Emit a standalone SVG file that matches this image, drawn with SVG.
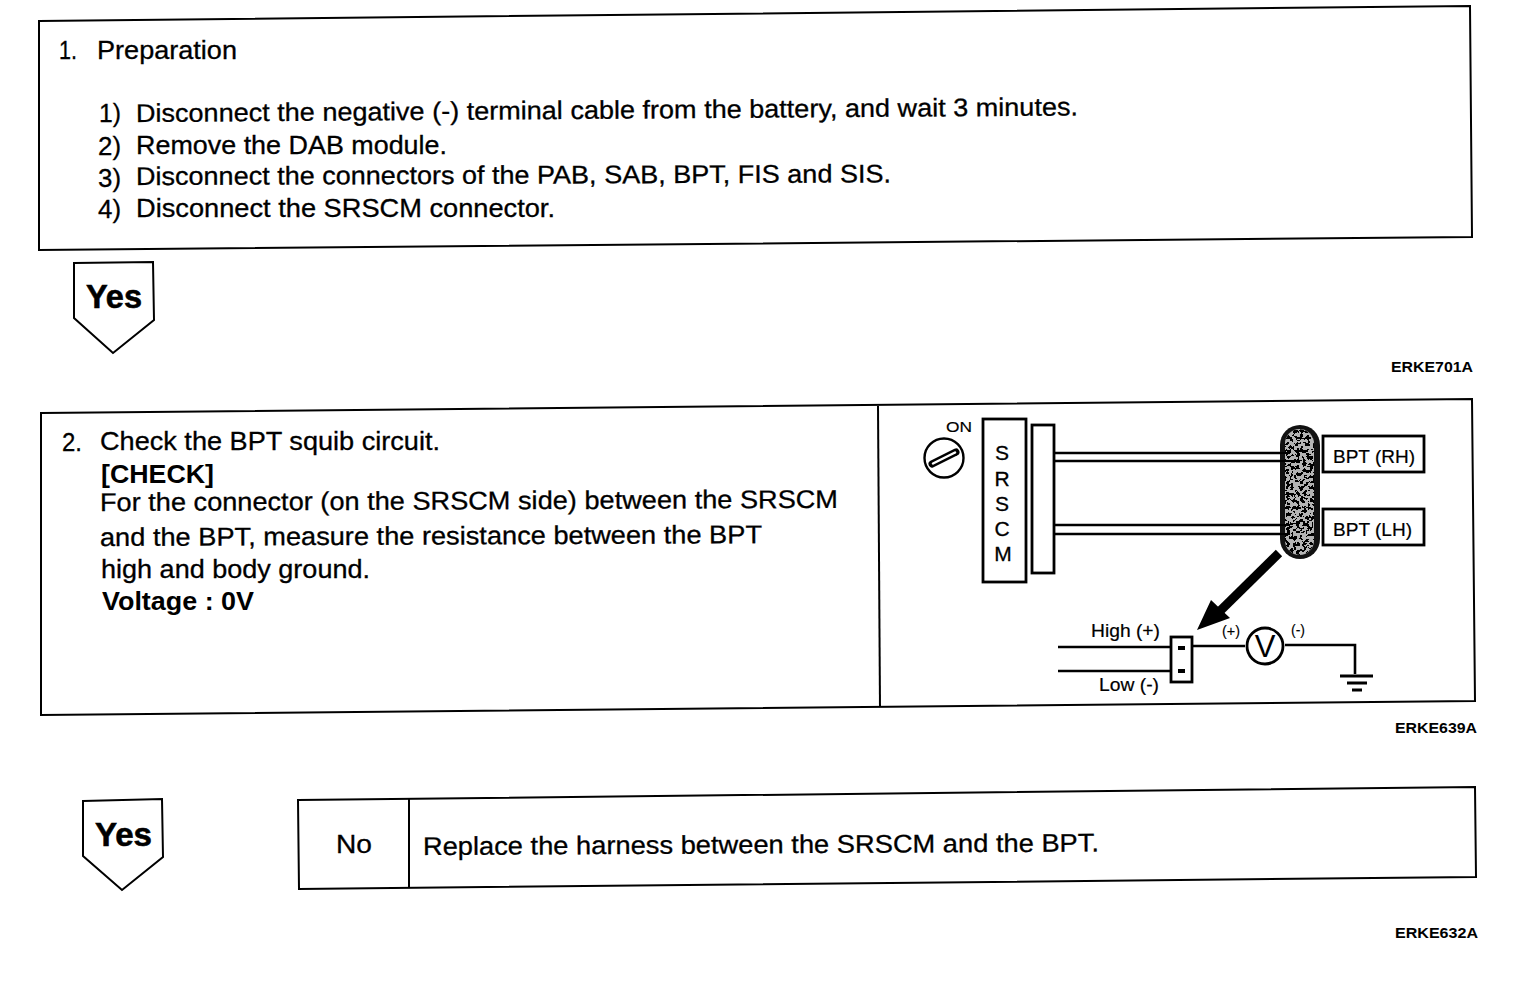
<svg xmlns="http://www.w3.org/2000/svg" width="1520" height="984" viewBox="0 0 1520 984">
<style>
.b{fill:none;stroke:#000;stroke-width:2}
.v{fill:none;stroke:#000;stroke-width:2.600}
.f{fill:#fff;stroke:#000;stroke-width:2.800}
text{font-family:"Liberation Sans",Arial,sans-serif;fill:#000}
.t{font-size:25.500px;stroke:#000;stroke-width:.3}
.h{font-size:25.500px;font-weight:bold}
.y{font-size:33px;font-weight:bold;stroke:#000;stroke-width:.6}
.c{font-size:14px;font-weight:bold}
.l{font-size:18.500px;stroke:#000;stroke-width:.2}
.s{font-size:14px;stroke:#000;stroke-width:.15}
.m{font-size:21px;text-anchor:middle;stroke:#000;stroke-width:.3}
</style>
<defs>
<filter id="grain" x="0" y="0" width="100%" height="100%">
<feTurbulence type="fractalNoise" baseFrequency="0.3" numOctaves="2" seed="11" result="n"/>
<feColorMatrix in="n" type="matrix" values="0 0 0 0 0 0 0 0 0 0 0 0 0 0 0 1.300 1.300 0 0 -0.950"/>
<feComponentTransfer result="a"><feFuncA type="discrete" tableValues="0 0 1 1 1"/></feComponentTransfer>
<feComposite in="a" in2="SourceGraphic" operator="in" result="d"/>
<feFlood flood-color="#b4b4b4"/>
<feComposite in2="SourceGraphic" operator="in" result="bg"/>
<feMerge><feMergeNode in="bg"/><feMergeNode in="d"/></feMerge>
</filter>
</defs>

<g id="step1">
<path class="b" d="M39 21L1470 6L1472 237L39 250Z"/>
<text class="t" x="59" y="59" textLength="18" lengthAdjust="spacingAndGlyphs">1.</text>
<text class="t" x="97" y="59" textLength="140" lengthAdjust="spacingAndGlyphs">Preparation</text>
<text class="t" x="99" y="122" textLength="22" lengthAdjust="spacingAndGlyphs">1)</text>
<text class="t" x="136" y="122" textLength="942" lengthAdjust="spacingAndGlyphs" transform="rotate(-0.4 136 122)">Disconnect the negative (-) terminal cable from the battery, and wait 3 minutes.</text>
<text class="t" x="98" y="155" textLength="23" lengthAdjust="spacingAndGlyphs">2)</text>
<text class="t" x="136" y="154" textLength="311" lengthAdjust="spacingAndGlyphs">Remove the DAB module.</text>
<text class="t" x="98" y="187" textLength="23" lengthAdjust="spacingAndGlyphs">3)</text>
<text class="t" x="136" y="185" textLength="755" lengthAdjust="spacingAndGlyphs" transform="rotate(-0.2 136 185)">Disconnect the connectors of the PAB, SAB, BPT, FIS and SIS.</text>
<text class="t" x="98" y="218" textLength="23" lengthAdjust="spacingAndGlyphs">4)</text>
<text class="t" x="136" y="217" textLength="419" lengthAdjust="spacingAndGlyphs">Disconnect the SRSCM connector.</text>
</g>
<g id="yes1">
<path class="b" d="M74 263L153 262L154 320L113 353L74 318Z"/>
<text class="y" x="86" y="308" textLength="56" lengthAdjust="spacingAndGlyphs">Yes</text>
</g>
<text class="c" x="1391" y="372" textLength="82" lengthAdjust="spacingAndGlyphs">ERKE701A</text>

<g id="step2">
<path class="b" d="M41 413L1472 399L1475 701L41 715Z"/>
<path class="b" d="M878 406L880 707"/>
<text class="t" x="62" y="451" textLength="20" lengthAdjust="spacingAndGlyphs">2.</text>
<text class="t" x="100" y="450" textLength="340" lengthAdjust="spacingAndGlyphs">Check the BPT squib circuit.</text>
<text class="h" x="101" y="483" textLength="113" lengthAdjust="spacingAndGlyphs">[CHECK]</text>
<text class="t" x="100" y="511" textLength="738" lengthAdjust="spacingAndGlyphs" transform="rotate(-0.25 100 511)">For the connector (on the SRSCM side) between the SRSCM</text>
<text class="t" x="100" y="546" textLength="662" lengthAdjust="spacingAndGlyphs" transform="rotate(-0.25 100 546)">and the BPT, measure the resistance between the BPT</text>
<text class="t" x="101" y="578" textLength="269" lengthAdjust="spacingAndGlyphs">high and body ground.</text>
<text class="h" x="102" y="610" textLength="152" lengthAdjust="spacingAndGlyphs">Voltage : 0V</text>
</g>

<g id="connectors">
<path class="v" d="M1054 453H1282M1054 461H1282M1054 525H1282M1054 534H1282"/>
<path class="v" d="M1058 647H1171M1058 671H1171M1192 646H1245M1285 645H1355V674"/>
<path d="M1279 553L1218 613" fill="none" stroke="#000" stroke-width="9"/>
<path d="M1197 630L1211 600L1230 618Z" fill="#000"/>
</g>

<g id="switch">
<text class="s" x="946" y="432" textLength="26" lengthAdjust="spacingAndGlyphs">ON</text>
<circle cx="944" cy="458" r="19.500" fill="#fff" stroke="#000" stroke-width="2.400"/>
<path d="M932 464L956 452" stroke="#000" stroke-width="7" stroke-linecap="round"/>
<path d="M933 463.500L955 452.500" stroke="#fff" stroke-width="2.500" stroke-linecap="round"/>
</g>
<g id="srscm">
<rect class="f" x="983" y="419" width="43" height="163"/>
<text class="m" x="1002" y="460">S</text>
<text class="m" x="1002" y="486">R</text>
<text class="m" x="1002" y="511">S</text>
<text class="m" x="1002" y="536">C</text>
<text class="m" x="1003" y="561">M</text>
</g>
<g id="connector-block"><rect class="f" x="1032" y="425" width="22" height="148"/></g>
<g id="harness">
<rect x="1280" y="425" width="40" height="134" rx="20" fill="#111"/>
<rect x="1285" y="429" width="29" height="126" rx="14.500" fill="#777" filter="url(#grain)"/>
<path d="M1280 453h10M1280 461h10M1280 525h10M1280 534h10" stroke="#000" stroke-width="2"/>
</g>
<g id="bpt-rh">
<rect class="f" x="1323" y="436" width="101" height="36"/>
<text class="l" x="1333" y="463" textLength="82" lengthAdjust="spacingAndGlyphs">BPT (RH)</text>
</g>
<g id="bpt-lh">
<rect class="f" x="1323" y="509" width="101" height="36"/>
<text class="l" x="1333" y="536" textLength="79" lengthAdjust="spacingAndGlyphs">BPT (LH)</text>
</g>
<g id="plug">
<rect class="f" x="1171" y="637" width="21" height="45"/>
<rect x="1178" y="646" width="7" height="4"/>
<rect x="1178" y="669" width="7" height="4"/>
<text class="l" x="1091" y="637" textLength="69" lengthAdjust="spacingAndGlyphs">High (+)</text>
<text class="l" x="1099" y="691" textLength="60" lengthAdjust="spacingAndGlyphs">Low (-)</text>
</g>
<g id="meter">
<circle cx="1265" cy="646" r="18" fill="#fff" stroke="#000" stroke-width="2.800"/>
<text x="1265" y="657" font-size="31" text-anchor="middle">V</text>
<text class="s" x="1222" y="636" textLength="18" lengthAdjust="spacingAndGlyphs">(+)</text>
<text class="s" x="1291" y="635" textLength="14" lengthAdjust="spacingAndGlyphs">(-)</text>
</g>
<g id="ground">
<path d="M1340 676H1373M1347 683H1367M1352 690H1362" stroke="#000" stroke-width="2.800"/>
</g>
<text class="c" x="1395" y="733" textLength="82" lengthAdjust="spacingAndGlyphs">ERKE639A</text>

<g id="yes2">
<path class="b" d="M83 801L162 799L163 857L122 890L83 856Z"/>
<text class="y" x="95" y="846" textLength="57" lengthAdjust="spacingAndGlyphs">Yes</text>
</g>
<g id="no-box">
<path class="b" d="M298 800L1475 787L1476 877L299 889Z"/>
<path class="b" d="M409 798V887"/>
<text class="t" x="336" y="853" textLength="36" lengthAdjust="spacingAndGlyphs">No</text>
<text class="t" x="423" y="855" textLength="676" lengthAdjust="spacingAndGlyphs" transform="rotate(-0.3 423 855)">Replace the harness between the SRSCM and the BPT.</text>
</g>
<text class="c" x="1395" y="938" textLength="83" lengthAdjust="spacingAndGlyphs">ERKE632A</text>
</svg>
